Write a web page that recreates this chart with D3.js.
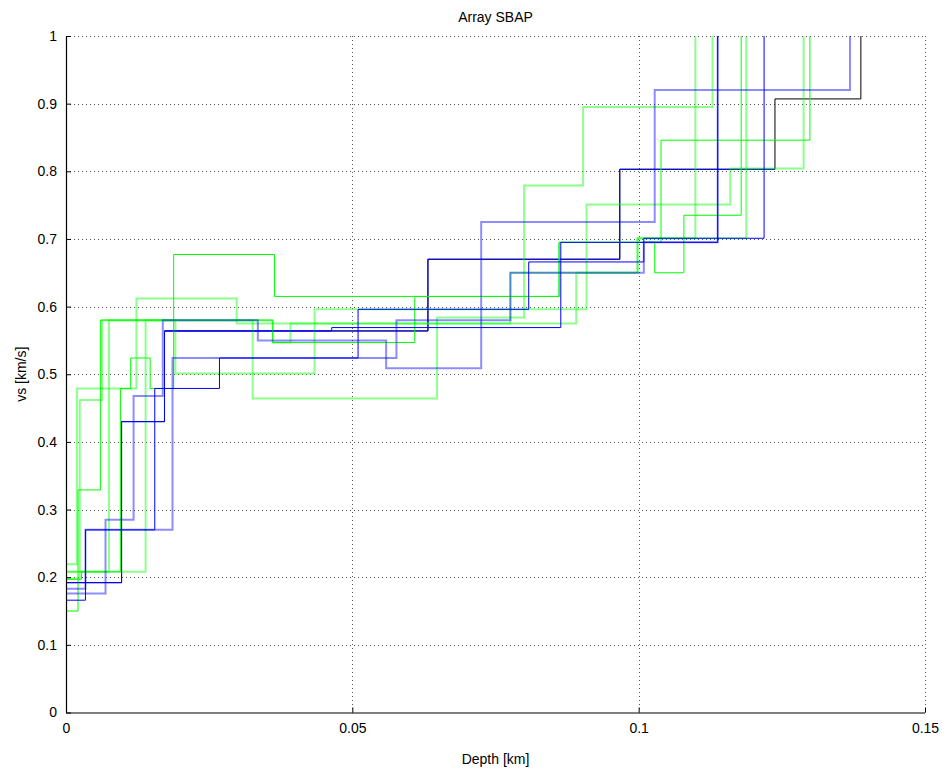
<!DOCTYPE html>
<html>
<head>
<meta charset="utf-8">
<script src="https://cdn.jsdelivr.net/npm/d3@7"></script>
<style>
  body { margin: 0; background: #fff; }
  svg text { font-family: "Liberation Sans", Arial, Helvetica, sans-serif; }
</style>
</head>
<body>
<div id="chart"></div>
<script>
// ---- axis ticks ----
const depthTicks = [0, 0.05, 0.1, 0.15];
const depthTickLabels = ["0", "0.05", "0.1", "0.15"];
const vsTicks = [0, 0.1, 0.2, 0.3, 0.4, 0.5, 0.6, 0.7, 0.8, 0.9, 1];
const vsTickLabels = ["0", "0.1", "0.2", "0.3", "0.4", "0.5", "0.6", "0.7", "0.8", "0.9", "1"];

// ---- layered shear-wave velocity models ----
// interface depths (km, bottom of each layer) and the layer velocity above each interface (km/s);
// below the last interface the half-space velocity runs off the top of the axes.
const blackDepths = [0.0097, 0.0172, 0.0464, 0.0632, 0.0967, 0.1238, 0.1388];
const blackVs     = [0.192, 0.430, 0.564, 0.564, 0.670, 0.803, 0.907];

const blueADepths = [0.0069, 0.0118, 0.0169, 0.0335, 0.0559, 0.0725, 0.1028, 0.1369];
const blueAVs     = [0.176, 0.285, 0.468, 0.580, 0.550, 0.509, 0.725, 0.920];

const blueBDepths = [0.0097, 0.0172, 0.0464, 0.0864, 0.1138];
const blueBVs     = [0.192, 0.430, 0.564, 0.569, 0.695];

const blueCDepths = [0.0034, 0.0155, 0.0268, 0.0510, 0.0808, 0.1009, 0.1219];
const blueCVs     = [0.166, 0.270, 0.479, 0.524, 0.596, 0.666, 0.701];

const blueDDepths = [0.0034, 0.0186, 0.0577, 0.0776, 0.1009, 0.1138];
const blueDVs     = [0.183, 0.270, 0.524, 0.580, 0.650, 0.695];

const blueEDepths = [0.0097, 0.0172, 0.0632, 0.0967, 0.1238];
const blueEVs     = [0.192, 0.430, 0.564, 0.670, 0.803];

const greenADepths = [0.0019, 0.0123, 0.0298, 0.0891, 0.0998, 0.1099];
const greenAVs     = [0.219, 0.479, 0.612, 0.575, 0.650, 0.701];

const greenBDepths = [0.0027, 0.0095, 0.0113, 0.0147, 0.0188, 0.0364, 0.0861, 0.1039, 0.1299];
const greenBVs     = [0.197, 0.208, 0.479, 0.524, 0.479, 0.677, 0.615, 0.695, 0.846];

const greenCDepths = [0.0024, 0.0063, 0.0191, 0.0434, 0.0909, 0.1160, 0.1288];
const greenCVs     = [0.198, 0.462, 0.580, 0.501, 0.596, 0.751, 0.804];

const greenDDepths = [0.0075, 0.0326, 0.0648, 0.0800, 0.0903, 0.1129];
const greenDVs     = [0.208, 0.580, 0.464, 0.584, 0.779, 0.895];

const greenEDepths = [0.0021, 0.0060, 0.0361, 0.0609, 0.0861, 0.1028, 0.1079, 0.1179];
const greenEVs     = [0.150, 0.329, 0.580, 0.547, 0.615, 0.695, 0.650, 0.735];

const greenFDepths = [0.0139, 0.0361, 0.0392, 0.0776, 0.0998, 0.1188];
const greenFVs     = [0.208, 0.580, 0.547, 0.575, 0.650, 0.701];

// models in drawing order, paired with a line style name
// (the black reference model sits underneath a blue model that shares its shallow layers)
const models = [
  { depths: blackDepths,  vs: blackVs,  style: "black" },
  { depths: blueEDepths,  vs: blueEVs,  style: "blue", open: true },
  { depths: greenADepths, vs: greenAVs, style: "greenSoft" },
  { depths: greenDDepths, vs: greenDVs, style: "greenSoft" },
  { depths: greenFDepths, vs: greenFVs, style: "greenSoft" },
  { depths: greenCDepths, vs: greenCVs, style: "greenSoft" },
  { depths: greenBDepths, vs: greenBVs, style: "green" },
  { depths: greenEDepths, vs: greenEVs, style: "green" },
  { depths: blueADepths,  vs: blueAVs,  style: "blueSoft" },
  { depths: blueDDepths,  vs: blueDVs,  style: "blueSoft" },
  { depths: blueCDepths,  vs: blueCVs,  style: "blue" },
  { depths: blueBDepths,  vs: blueBVs,  style: "blue" }
];

const lineStyles = {
  black:     { stroke: "#000000", width: 1,   opacity: 1 },
  green:     { stroke: "#00ff00", width: 1,   opacity: 1 },
  greenSoft: { stroke: "#00ff00", width: 2,   opacity: 0.45 },
  blue:      { stroke: "#0000ff", width: 1,   opacity: 1 },
  blueSoft:  { stroke: "#0000ff", width: 2,   opacity: 0.45 }
};

// ---- layout ----
const W = 945, H = 771;
const margin = { top: 36, right: 20, bottom: 58.5, left: 66 };
const iw = W - margin.left - margin.right;
const ih = H - margin.top - margin.bottom;

const x = d3.scaleLinear().domain([0, 0.15]).range([0, iw]);
const y = d3.scaleLinear().domain([0, 1]).range([ih, 0]);

const svg = d3.select("#chart").append("svg")
  .attr("width", W).attr("height", H);

const g = svg.append("g").attr("transform", `translate(${margin.left},${margin.top})`);

g.append("clipPath").attr("id", "plotClip")
  .append("rect").attr("x", 0).attr("y", -1).attr("width", iw + 1).attr("height", ih + 2);

// dotted grid
const grid = g.append("g").attr("class", "grid");
grid.selectAll("line.gy").data(vsTicks.filter(v => v > 0)).join("line")
  .attr("class", "gy")
  .attr("x1", 0).attr("x2", iw)
  .attr("y1", d => Math.round(y(d)) + 0.5).attr("y2", d => Math.round(y(d)) + 0.5)
  .attr("stroke", "#555").attr("stroke-width", 1).attr("stroke-dasharray", "1,3");
grid.selectAll("line.gx").data(depthTicks.filter(v => v > 0)).join("line")
  .attr("class", "gx")
  .attr("x1", d => Math.round(x(d)) + 0.5).attr("x2", d => Math.round(x(d)) + 0.5)
  .attr("y1", 0).attr("y2", ih)
  .attr("stroke", "#555").attr("stroke-width", 1).attr("stroke-dasharray", "1,3");

// step path of a layered model: horizontal across each layer, vertical at each interface;
// an "open" model stops at its last interface instead of rising to the top
function stepPoints(depths, vs, open) {
  const pts = [[0, vs[0]]];
  depths.forEach((z, i) => {
    pts.push([z, vs[i]]);
    if (i + 1 < depths.length) pts.push([z, vs[i + 1]]);
    else if (!open) pts.push([z, y.domain()[1]]);
  });
  return pts;
}

const line = d3.line().x(d => x(d[0])).y(d => y(d[1]));

const lines = g.append("g").attr("clip-path", "url(#plotClip)");
lines.selectAll("path").data(models).join("path")
  .attr("d", m => line(stepPoints(m.depths, m.vs, m.open)))
  .attr("fill", "none")
  .attr("stroke", m => lineStyles[m.style].stroke)
  .attr("stroke-width", m => lineStyles[m.style].width)
  .attr("stroke-opacity", m => lineStyles[m.style].opacity);

// axes with inward ticks
const yAxis = d3.axisLeft(y).tickValues(vsTicks)
  .tickFormat((d, i) => vsTickLabels[i]).tickSize(-5).tickPadding(9);
const xAxis = d3.axisBottom(x).tickValues(depthTicks)
  .tickFormat((d, i) => depthTickLabels[i]).tickSize(-5).tickPadding(11);

const ya = g.append("g").call(yAxis);
const xa = g.append("g").attr("transform", `translate(0,${ih})`).call(xAxis);
[ya, xa].forEach(a => {
  a.select(".domain").attr("stroke", "#000").attr("stroke-width", 1.2);
  a.selectAll(".tick line").attr("stroke", "#000");
  a.selectAll("text").attr("font-size", 14).attr("fill", "#000");
});
xa.select(".domain").attr("d", `M0,0.5H${iw}`);
ya.select(".domain").attr("d", `M0.5,0V${ih}`);

// title and axis labels
svg.append("text").attr("x", margin.left + iw / 2).attr("y", 22)
  .attr("text-anchor", "middle").attr("font-size", 14).text("Array SBAP");
svg.append("text").attr("x", margin.left + iw / 2).attr("y", 764)
  .attr("text-anchor", "middle").attr("font-size", 14).text("Depth [km]");
svg.append("text")
  .attr("transform", `translate(26,${margin.top + ih / 2}) rotate(-90)`)
  .attr("text-anchor", "middle").attr("font-size", 14).text("vs [km/s]");
</script>
</body>
</html>
